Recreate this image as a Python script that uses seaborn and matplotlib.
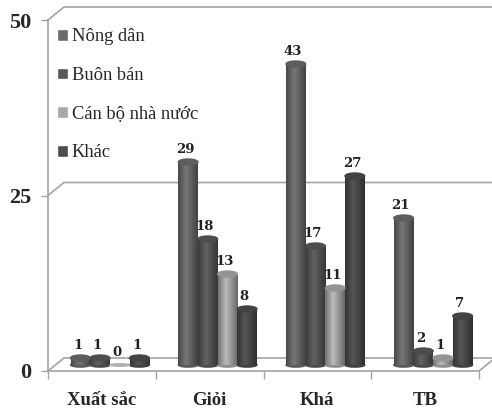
import numpy as np
import pandas as pd
import seaborn as sns
import matplotlib.pyplot as plt
from matplotlib.colors import to_rgb
from matplotlib.patches import Ellipse

categories = ["Xuất sắc", "Giỏi", "Khá", "TB"]
series_names = ["Nông dân", "Buôn bán", "Cán bộ nhà nước", "Khác"]
nong_dan = [1, 29, 43, 21]
buon_ban = [1, 18, 17, 2]
can_bo = [0, 13, 11, 1]
khac = [1, 8, 27, 7]
y_ticks = [0, 25, 50]
colors = ["#6a6a6a", "#585858", "#a8a8a8", "#4c4c4c"]

W, H = 492, 412
GREY = "#a3a3a3"


def px_axes(fig, left, right, top, bottom):
    # axes placed by image pixels, y measured from the top
    return fig.add_axes([left / W, 1 - bottom / H, (right - left) / W, (bottom - top) / H])


sns.set_style("white")
plt.rcParams["font.family"] = ["Liberation Serif", "DejaVu Sans"]

df = pd.DataFrame({"loai": categories, series_names[0]: nong_dan, series_names[1]: buon_ban,
                   series_names[2]: can_bo, series_names[3]: khac})
df = df.melt(id_vars="loai", var_name="nghe", value_name="so")

fig = plt.figure(figsize=(W / 100, H / 100), dpi=100)

# front plane of the fake 3D box: axis, ticks and labels
frame = px_axes(fig, 48, 479, 20, 371)
frame.set_xlim(0, 4)
frame.set_ylim(0, 50)
sns.despine(ax=frame)
for side in ["left", "bottom"]:
    frame.spines[side].set_color(GREY)
    frame.spines[side].set_linewidth(1.2)
frame.set_xticks(range(5))
frame.set_xticklabels([])
frame.set_xticks([i + 0.5 for i in range(len(categories))], categories, minor=True)
frame.set_yticks(y_ticks)
frame.tick_params(axis="x", which="major", length=6, width=1, color=GREY, bottom=True)
frame.tick_params(axis="x", which="minor", length=0, pad=15, labelsize=13.5)
frame.tick_params(axis="y", length=5, width=1, color=GREY, pad=7, labelsize=16, left=True)
for lab in frame.get_xticklabels(minor=True) + frame.get_yticklabels():
    lab.set_fontweight("bold")

# walls and floor, back plane sits 16 px right and 13 px up
dx, dy = 16 / 431 * 4, 13 / 351 * 50
for v in y_ticks:
    frame.plot([0, dx, 4 + dx], [v, v + dy, v + dy], color=GREY, lw=1.2, clip_on=False)
frame.plot([4, 4 + dx], [0, dy], color=GREY, lw=1.2, clip_on=False)

# bars stand in the middle of the floor
ax = px_axes(fig, 56, 487, 15, 365)
sns.barplot(data=df, x="loai", y="so", hue="nghe", hue_order=series_names, order=categories,
            palette=colors, width=0.73, gap=0, saturation=1, ax=ax)
ax.set_xlim(-0.5, 3.5)
ax.set_ylim(0, 50)
ax.patch.set_alpha(0)
ax.set_xlabel("")
ax.set_ylabel("")
ax.set_xticks([])
ax.set_yticks([])
sns.despine(ax=ax, left=True, bottom=True)

# cylinder look: horizontal shading over each bar plus round ends
shade = np.interp(np.linspace(0, 1, 40), [0, 0.4, 1], [0.68, 1.12, 0.62])
cap_h = 6 / 7
for container, col in zip(ax.containers, colors):
    rgb = np.array(to_rgb(col))
    strip = np.clip(shade[None, :, None] * rgb, 0, 1)
    for rect in container:
        x0, w, h = rect.get_x(), rect.get_width(), rect.get_height()
        rect.set_visible(False)
        if h > 0:
            ax.imshow(strip, extent=[x0, x0 + w, 0, h], aspect="auto", zorder=3,
                      interpolation="bilinear")
            ax.add_patch(Ellipse((x0 + w / 2, 0), w, cap_h * 0.7, color=tuple(rgb * 0.85),
                                 zorder=2.9, clip_on=False))
            top_col = tuple(rgb * 0.88)
            cap = cap_h
        else:
            top_col = tuple(np.clip(rgb * 1.05, 0, 1))
            cap = cap_h * 0.4
        ax.add_patch(Ellipse((x0 + w / 2, h), w, cap, color=top_col, zorder=3.1, clip_on=False))
    texts = ax.bar_label(container, padding=4, fontsize=9.5, fontweight="bold",
                         fontfamily="DejaVu Serif", color="#222222", zorder=4)
    # labels sit a little left of the bars in the original
    for t in texts:
        t.xyann = (-2, t.xyann[1])
ax.set_xlim(-0.5, 3.5)
ax.set_ylim(0, 50)

handles, labels = ax.get_legend_handles_labels()
leg = ax.legend(handles, labels, loc="upper left", bbox_to_anchor=(-0.006, 0.972), frameon=False,
                fontsize=13.3, labelspacing=1.17, handlelength=0.6, handleheight=0.6,
                handletextpad=0.2, borderaxespad=0, borderpad=0.2, title=None)

fig.savefig("out.png", dpi=100)
